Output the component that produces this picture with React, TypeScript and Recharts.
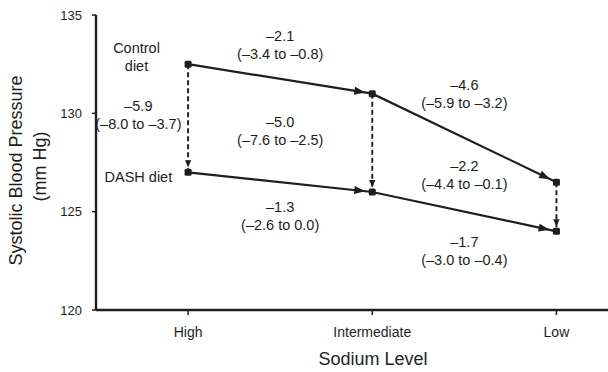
import React from 'react';
import { ComposedChart, Line, XAxis, YAxis, ReferenceLine, ReferenceDot } from 'recharts';

const sodiumLevels = ['High', 'Intermediate', 'Low'];
const levelIndex = [0, 1, 2];
const controlDiet = [132.5, 131.0, 126.5];
const dashDiet = [127.0, 126.0, 124.0];
const yTicks = [120, 125, 130, 135];

const dietLabels = [['Control', 'diet'], ['DASH diet']];
const dietDifferences = [
  ['–5.9', '(–8.0 to –3.7)'],
  ['–5.0', '(–7.6 to –2.5)'],
  ['–2.2', '(–4.4 to –0.1)'],
];
const controlChanges = [['–2.1', '(–3.4 to –0.8)'], ['–4.6', '(–5.9 to –3.2)']];
const dashChanges = [['–1.3', '(–2.6 to 0.0)'], ['–1.7', '(–3.0 to –0.4)']];

// where each text block sits, in axis units
const notes = [
  { lines: dietLabels[0], x: -0.28, y: 132.9 },
  { lines: dietLabels[1], x: -0.27, y: 126.75 },
  { lines: dietDifferences[0], x: -0.27, y: 129.95 },
  { lines: dietDifferences[1], x: 0.5, y: 129.1 },
  { lines: dietDifferences[2], x: 1.5, y: 126.9 },
  { lines: controlChanges[0], x: 0.5, y: 133.47 },
  { lines: controlChanges[1], x: 1.5, y: 130.98 },
  { lines: dashChanges[0], x: 0.5, y: 124.81 },
  { lines: dashChanges[1], x: 1.5, y: 123.0 },
];

const rows = levelIndex.map((i) => ({ x: i, control: controlDiet[i], dash: dashDiet[i] }));

const ink = '#1e1e1e';
const font = '"Liberation Sans", Arial, Helvetica, sans-serif';

function headPoints(x1: number, y1: number, x2: number, y2: number, gap: number, len: number, half: number) {
  const dx = x2 - x1;
  const dy = y2 - y1;
  const d = Math.hypot(dx, dy) || 1;
  const ux = dx / d;
  const uy = dy / d;
  const tx = x2 - ux * gap;
  const ty = y2 - uy * gap;
  const bx = tx - ux * len;
  const by = ty - uy * len;
  return `${tx},${ty} ${bx - uy * half},${by + ux * half} ${bx + uy * half},${by - ux * half}`;
}

const SegmentHead = (p: any) => <polygon points={headPoints(p.x1, p.y1, p.x2, p.y2, 7, 11, 4)} fill={ink} />;

const DropArrow = (p: any) => (
  <g>
    <line x1={p.x1} y1={p.y1} x2={p.x2} y2={p.y2} stroke={ink} strokeWidth={1.9} strokeDasharray="5 3" />
    <polygon points={headPoints(p.x1, p.y1, p.x2, p.y2, 5, 7, 3.2)} fill={ink} />
  </g>
);

const SquareDot = ({ cx, cy }: any) => <rect x={cx - 3.5} y={cy - 3.5} width={7} height={7} rx={1.5} fill={ink} />;

const NoteText = ({ cx, cy, lines }: any) => (
  <text x={cx} y={cy} textAnchor="middle" fontFamily={font} fontSize={14.5} fill={ink}>
    {lines.map((t: string, i: number) => (
      <tspan key={i} x={cx} y={cy + (i - (lines.length - 1) / 2) * 18} dy="0.36em">
        {t}
      </tspan>
    ))}
  </text>
);

const YTitle = ({ viewBox }: any) => {
  const cy = viewBox.y + viewBox.height / 2 + 8;
  return (
    <g fontFamily={font} fontSize={18} fill={ink} textAnchor="middle">
      <text x={16} y={cy} transform={`rotate(-90 16 ${cy})`} dy="0.36em">
        Systolic Blood Pressure
      </text>
      <text x={40} y={cy - 4} transform={`rotate(-90 40 ${cy - 4})`} dy="0.36em">
        (mm Hg)
      </text>
    </g>
  );
};

const XTitle = ({ viewBox }: any) => (
  <text x={viewBox.x + 277} y={365} textAnchor="middle" fontFamily={font} fontSize={18} fill={ink}>
    Sodium Level
  </text>
);

export default function App() {
  return (
    <div style={{ position: 'absolute', left: 0, top: 0, background: '#fff' }}>
      <ComposedChart width={608} height={372} data={rows} margin={{ top: 15, right: 0, bottom: 0, left: 0 }}>
        <XAxis
          dataKey="x"
          type="number"
          domain={[-0.5, 2.28]}
          ticks={levelIndex}
          tickFormatter={(v: number) => sodiumLevels[v]}
          allowDataOverflow
          height={62}
          tickSize={5}
          tickMargin={12}
          axisLine={{ stroke: ink, strokeWidth: 2.4 }}
          tickLine={{ stroke: ink, strokeWidth: 1.5 }}
          tick={{ fill: ink, fontSize: 14, fontFamily: font }}
          label={<XTitle />}
        />
        <YAxis
          type="number"
          domain={[120, 135]}
          ticks={yTicks}
          width={96}
          tickSize={4}
          tickMargin={10}
          axisLine={{ stroke: ink, strokeWidth: 2.4 }}
          tickLine={{ stroke: ink, strokeWidth: 1.5 }}
          tick={{ fill: ink, fontSize: 13, fontFamily: font }}
          label={<YTitle />}
        />
        {levelIndex.slice(1).map((i) => (
          <ReferenceLine
            key={`c${i}`}
            segment={[{ x: i - 1, y: controlDiet[i - 1] }, { x: i, y: controlDiet[i] }]}
            shape={SegmentHead}
          />
        ))}
        {levelIndex.slice(1).map((i) => (
          <ReferenceLine
            key={`d${i}`}
            segment={[{ x: i - 1, y: dashDiet[i - 1] }, { x: i, y: dashDiet[i] }]}
            shape={SegmentHead}
          />
        ))}
        {levelIndex.map((i) => (
          <ReferenceLine
            key={`v${i}`}
            segment={[{ x: i, y: controlDiet[i] }, { x: i, y: dashDiet[i] }]}
            shape={DropArrow}
          />
        ))}
        <Line dataKey="control" stroke={ink} strokeWidth={2.2} dot={<SquareDot />} isAnimationActive={false} />
        <Line dataKey="dash" stroke={ink} strokeWidth={2.2} dot={<SquareDot />} isAnimationActive={false} />
        {notes.map((n, i) => (
          <ReferenceDot
            key={`n${i}`}
            x={n.x}
            y={n.y}
            r={0}
            shape={(p: any) => <NoteText cx={p.cx} cy={p.cy} lines={n.lines} />}
          />
        ))}
      </ComposedChart>
    </div>
  );
}
